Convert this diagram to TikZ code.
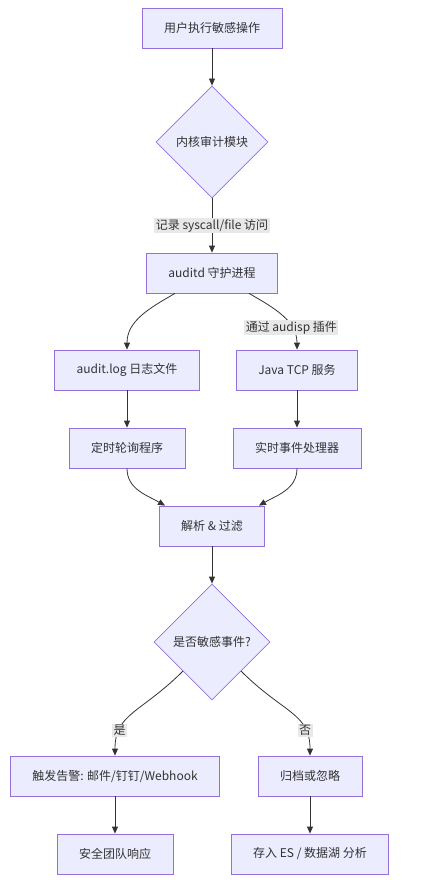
\documentclass[tikz,border=0pt]{standalone}
\usepackage{fontspec}
\newfontfamily\cjk{Noto Sans CJK SC}
\usetikzlibrary{shapes.geometric}
\usetikzlibrary{positioning}
\usetikzlibrary{arrows.meta}
\definecolor{boxfill}{HTML}{ECECFF}
\definecolor{boxline}{HTML}{9370DB}
\definecolor{lineclr}{HTML}{333333}
\definecolor{labelbg}{HTML}{E8E8E8}

\begin{document}
\begin{tikzpicture}[x=1pt, y=1pt,
            every node/.style = {font=\cjk\fontsize{12}{14}\selectfont, text=lineclr},
            box/.style = {draw=boxline, fill=boxfill, line width=0.8pt,
                minimum height=40pt, inner xsep=22pt, align=center},
            choice/.style = {draw=boxline, fill=boxfill, line width=0.8pt,
                diamond, aspect=1, inner sep=1pt},
            arr/.style = {-{Triangle[length=7pt,width=6pt]}, draw=lineclr, line width=0.8pt},
            lbl/.style = {fill=labelbg, inner sep=1.5pt}]
            \useasboundingbox (0,0) rectangle (421,-880);
            % main column
            \node[box] (act) at (212,-28) {用户执行敏感操作};
            \node[choice, minimum size=112pt] (kern) at (212,-142) {内核审计模块};
            \node[box] (auditd) at (212,-273) {auditd 守护进程};
            % two ways out of auditd
            \node[box] (log) at (127,-370) {audit.log 日志文件};
            \node[box] (tcp) at (297,-370) {Java TCP 服务};
            \node[box] (poll) at (127,-448) {定时轮询程序};
            \node[box] (rt) at (297,-448) {实时事件处理器};
            \node[box] (parse) at (212,-526) {解析 \& 过滤};
            \node[choice, minimum size=116pt] (sens) at (212,-642) {是否敏感事件?};
            % outcomes
            \node[box] (alert) at (115,-776) {触发告警: 邮件/钉钉/Webhook};
            \node[box] (arch) at (310,-776) {归档或忽略};
            \node[box] (team) at (115,-854) {安全团队响应};
            \node[box] (store) at (310,-854) {存入 ES / 数据湖 分析};

            \draw[arr] (act) -- (kern);
            \draw[arr] (kern) -- node[lbl] {记录 syscall/file 访问} (auditd);
            \draw[arr] ([xshift=-37pt]auditd.south) to[out=-150,in=90] (log.north);
            \draw[arr] ([xshift=37pt]auditd.south) to[out=-30,in=90]
                node[lbl,pos=0.7] {通过 audisp 插件} (tcp.north);
            \draw[arr] (log) -- (poll);
            \draw[arr] (tcp) -- (rt);
            \draw[arr] (poll.south) to[out=-90,in=150] ([xshift=-47pt]parse.north);
            \draw[arr] (rt.south) to[out=-90,in=30] ([xshift=47pt]parse.north);
            \draw[arr] (parse) -- (sens);
            \draw[arr] (sens.south west) to[out=-135,in=90,out looseness=1.4]
                node[lbl,pos=0.75] {是} (alert.north);
            \draw[arr] (sens.south east) to[out=-45,in=90,out looseness=1.4]
                node[lbl,pos=0.75] {否} (arch.north);
            \draw[arr] (alert) -- (team);
            \draw[arr] (arch) -- (store);
        \end{tikzpicture}
\end{document}
